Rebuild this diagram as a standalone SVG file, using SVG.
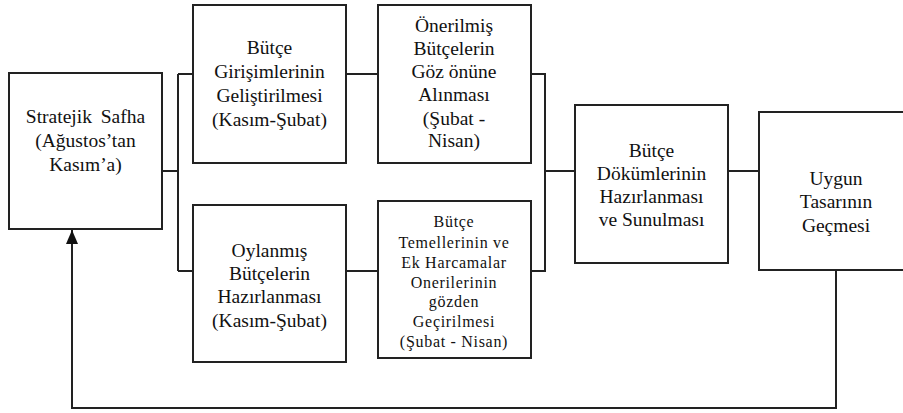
<svg xmlns="http://www.w3.org/2000/svg" width="903" height="413" viewBox="0 0 903 413">
<style>
.box{fill:#fff;stroke:#222;stroke-width:2}
.ln{fill:none;stroke:#222;stroke-width:2}
.t{font-size:19.5px;fill:#111;text-anchor:middle}
.s{font-size:16px;letter-spacing:0.7px;fill:#111;text-anchor:middle}
</style>
<defs>
<marker id="arr" markerWidth="14" markerHeight="12" refX="14" refY="6" orient="auto" markerUnits="userSpaceOnUse" viewBox="0 0 14 12">
<path d="M0,0 L14,6 L0,12 Z" fill="#111"/>
</marker>
</defs>
<g id="connectors">
<path class="ln" d="M162,171 H178 M178,74 V271 M178,74 H193 M178,271 H193"/>
<path class="ln" d="M346,74 H378 M346,271 H378"/>
<path class="ln" d="M531,74 H545 V271 H531 M545,171 H575"/>
<path class="ln" d="M728,171 H759"/>
<path class="ln" d="M836,270 V408 H72 V230" marker-end="url(#arr)"/>
</g>
<g font-family="Liberation Serif, Times New Roman, Times, serif">
<g id="stratejik">
<rect class="box" x="9" y="73" width="153" height="156"/>
<text class="t" x="85.5" y="123" word-spacing="4">Stratejik Safha</text>
<text class="t" x="85.5" y="147">(Ağustos’tan</text>
<text class="t" x="85.5" y="171">Kasım’a)</text>
</g>
<g id="girisim">
<rect class="box" x="193" y="5" width="153" height="158"/>
<text class="t" x="269.5" y="54">Bütçe</text>
<text class="t" x="269.5" y="78">Girişimlerinin</text>
<text class="t" x="269.5" y="102">Geliştirilmesi</text>
<text class="t" x="269.5" y="126">(Kasım-Şubat)</text>
</g>
<g id="onerilmis">
<rect class="box" x="378" y="5" width="153" height="158"/>
<text class="t" x="454" y="32">Önerilmiş</text>
<text class="t" x="454" y="55">Bütçelerin</text>
<text class="t" x="454" y="78">Göz önüne</text>
<text class="t" x="454" y="101">Alınması</text>
<text class="t" x="454" y="125">(Şubat -</text>
<text class="t" x="454" y="147">Nisan)</text>
</g>
<g id="oylanmis">
<rect class="box" x="193" y="205" width="153" height="157"/>
<text class="t" x="269.5" y="257">Oylanmış</text>
<text class="t" x="269.5" y="280">Bütçelerin</text>
<text class="t" x="269.5" y="303">Hazırlanması</text>
<text class="t" x="269.5" y="327">(Kasım-Şubat)</text>
</g>
<g id="temeller">
<rect class="box" x="378" y="201" width="153" height="157"/>
<text class="s" x="454" y="227">Bütçe</text>
<text class="s" x="454" y="248">Temellerinin ve</text>
<text class="s" x="454" y="268">Ek Harcamalar</text>
<text class="s" x="454" y="288">Onerilerinin</text>
<text class="s" x="454" y="307">gözden</text>
<text class="s" x="454" y="327">Geçirilmesi</text>
<text class="s" x="454" y="347">(Şubat - Nisan)</text>
</g>
<g id="dokum">
<rect class="box" x="575" y="105" width="153" height="158"/>
<text class="t" x="651.5" y="157">Bütçe</text>
<text class="t" x="651.5" y="180">Dökümlerinin</text>
<text class="t" x="651.5" y="203">Hazırlanması</text>
<text class="t" x="651.5" y="226">ve Sunulması</text>
</g>
<g id="uygun">
<rect class="box" x="759" y="112" width="154" height="158"/>
<text class="t" x="836" y="185">Uygun</text>
<text class="t" x="836" y="208">Tasarının</text>
<text class="t" x="836" y="232">Geçmesi</text>
</g>
</g>
</svg>
